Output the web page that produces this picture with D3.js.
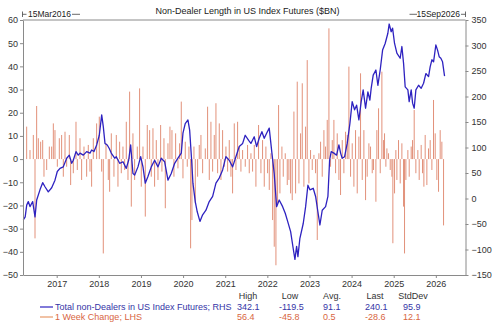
<!DOCTYPE html>
<html><head><meta charset="utf-8">
<script src="https://cdn.jsdelivr.net/npm/d3@7"></script>
<style>
html,body{margin:0;padding:0;background:#fff;}
svg{display:block;font-family:"Liberation Sans",Arial,sans-serif;}
</style></head>
<body>
<svg id="c" width="500" height="328"></svg>
<script>
// ---- DATA ----
const title = "Non-Dealer Length in US Index Futures ($BN)";
const startLabel = "15Mar2016";
const endLabel = "15Sep2026";
const yearTicks = [2017,2018,2019,2020,2021,2022,2023,2024,2025,2026];
const leftTicks = [-50,-40,-30,-20,-10,0,10,20,30,40,50,60];
const rightTicks = [-150,-100,-50,0,50,100,150,200,250,300,350];

// Total non-Dealers (RHS), time in decimal years
const lineT = [2016.207,2016.252,2016.288,2016.326,2016.366,2016.43,2016.485,2016.525,2016.603,2016.667,
2016.722,2016.80,2016.881,2016.959,2017.014,2017.078,2017.156,2017.237,2017.299,2017.356,
2017.394,2017.458,2017.512,2017.553,2017.631,2017.712,2017.79,2017.83,2017.885,2017.949,
2018.011,2018.068,2018.106,2018.146,2018.20,2018.248,2018.295,2018.376,2018.414,2018.495,
2018.573,2018.651,2018.708,2018.756,2018.81,2018.851,2018.929,2018.993,2019.048,2019.102,
2019.166,2019.245,2019.325,2019.404,2019.482,2019.563,2019.641,2019.719,2019.80,2019.878,
2019.957,2019.997,2020.051,2020.115,2020.156,2020.203,2020.234,2020.289,2020.336,2020.40,
2020.464,2020.543,2020.621,2020.702,2020.78,2020.858,2020.939,2021.017,2021.095,2021.176,
2021.254,2021.333,2021.414,2021.475,2021.556,2021.61,2021.689,2021.746,2021.807,2021.871,
2021.926,2021.983,2022.045,2022.109,2022.163,2022.22,2022.282,2022.363,2022.425,2022.472,
2022.553,2022.614,2022.655,2022.695,2022.726,2022.773,2022.852,2022.909,2022.963,2023.011,
2023.089,2023.146,2023.20,2023.248,2023.303,2023.383,2023.438,2023.478,2023.516,2023.58,
2023.644,2023.699,2023.739,2023.777,2023.834,2023.896,2023.96,2024.014,2024.071,2024.119,
2024.173,2024.228,2024.275,2024.332,2024.387,2024.434,2024.465,2024.513,2024.577,2024.624,
2024.679,2024.736,2024.797,2024.861,2024.892,2024.94,2024.973,2025.02,2025.075,2025.153,
2025.194,2025.234,2025.272,2025.336,2025.367,2025.415,2025.448,2025.486,2025.526,2025.59,
2025.652,2025.709,2025.763,2025.827,2025.865,2025.906,2025.946,2026.0,2026.041,2026.079,
2026.119,2026.159,2026.207];
const lineV = [-42,-36,-13,-6,-16,-6,-36,-3,17,31,
23,13,21,36,53,59,62,79,85,69,
75,92,85,89,85,92,89,95,92,105,
124,164,141,108,105,98,89,79,82,69,
72,59,75,105,49,46,62,82,62,30,
43,62,75,62,79,72,36,49,69,79,
89,128,147,154,134,75,30,-6,-26,-45,
-32,-23,-6,4,30,40,56,82,75,62,
82,102,108,124,114,108,121,102,118,131,
118,128,138,89,49,-16,-3,-16,-29,-42,
-65,-98,-119.5,-94,-114,-78,-49,-16,26,17,
20,4,-26,-52,-23,-16,4,75,92,89,
85,105,89,79,82,108,147,190,174,183,
154,190,213,177,209,193,216,242,252,222,
252,291,304,324,342.1,327,334,304,285,275,
298,265,219,213,190,213,187,177,213,222,
216,226,245,239,258,272,268,301,291,278,
275,268,240.1];

// 1 Week Change (LHS)
const barT = [2016.287,2016.366,2016.445,2016.485,2016.524,2016.564,2016.619,2016.667,2016.698,2016.762,
2016.825,2016.88,2016.92,2016.959,2017.015,2017.062,2017.117,2017.157,2017.197,2017.236,
2017.299,2017.331,2017.394,2017.458,2017.489,2017.553,2017.592,2017.648,2017.711,2017.75,
2017.79,2017.829,2017.869,2017.948,2018.011,2018.067,2018.106,2018.17,2018.225,
2018.257,2018.296,2018.359,2018.415,2018.454,2018.494,2018.533,2018.573,2018.613,2018.652,
2018.692,2018.731,2018.771,2018.81,2018.85,2018.913,2018.968,2019.008,2019.048,2019.103,
2019.15,2019.206,2019.245,2019.285,2019.324,2019.364,2019.404,2019.467,2019.498,2019.546,
2019.578,2019.641,2019.688,2019.736,2019.783,2019.823,2019.878,2019.917,2019.957,2019.997,
2020.052,2020.099,2020.139,2020.179,2020.21,2020.258,2020.29,
2020.345,2020.384,2020.424,2020.464,2020.527,2020.582,2020.622,2020.661,2020.701,2020.74,
2020.78,2020.82,2020.859,2020.899,2020.938,2020.978,2021.017,2021.057,2021.096,2021.136,
2021.175,2021.215,2021.255,2021.294,2021.334,2021.373,2021.413,2021.476,2021.531,2021.571,
2021.611,2021.65,2021.69,2021.729,2021.792,2021.848,2021.887,2021.927,2021.966,2022.006,
2022.046,2022.085,2022.125,2022.164,2022.204,2022.243,2022.267,2022.299,2022.346,2022.378,2022.425,
2022.473,2022.512,2022.552,2022.591,2022.631,2022.671,2022.71,2022.75,2022.789,2022.829,
2022.868,2022.908,2022.947,2022.987,2023.026,2023.066,2023.106,2023.145,2023.185,2023.224,
2023.264,2023.303,2023.343,2023.382,2023.422,2023.462,2023.501,2023.541,2023.58,2023.62,
2023.659,2023.699,2023.738,2023.778,2023.817,2023.857,2023.897,2023.936,2023.976,2024.015,
2024.055,2024.094,2024.134,2024.173,2024.213,2024.253,2024.292,2024.332,2024.371,2024.411,
2024.45,2024.49,
2024.521,2024.577,2024.6,2024.64,2024.68,2024.719,2024.759,2024.782,2024.814,2024.838,
2024.877,2024.917,2024.957,2024.98,2025.02,2025.051,2025.075,2025.114,2025.154,2025.194,
2025.233,2025.257,2025.289,2025.336,2025.368,2025.415,2025.447,2025.486,2025.526,2025.573,
2025.605,2025.652,2025.684,2025.716,2025.747,2025.787,2025.826,2025.866,2025.906,2025.945,
2025.985,2026.024,2026.064,2026.103,2026.143,2026.183];
const barV = [14.0,3.9,10.4,-34.2,22.9,9.0,7.5,8.2,-7.6,-4.7,
5.4,5.4,15.4,12.5,-3.3,9.0,10.4,-7.6,11.8,-3.3,
10.4,-11.2,-6.1,16.1,-4.7,9.0,-9.0,5.4,-7.6,6.1,
-5.4,-11.9,9.0,15.4,18.3,-5.4,-40.7,6.8,-9.0,
-14.1,11.1,-7.6,10.4,-11.9,7.5,-6.1,5.4,-4.7,16.1,
-9.0,29.1,-20.5,11.1,-9.0,5.4,30.5,-11.9,5.4,-24.8,
14.7,12.5,-7.6,13.3,-11.9,8.2,-9.0,14.7,-5.4,9.0,
-21.2,6.8,14.0,12.5,-7.6,11.1,-4.0,6.8,24.8,-8.3,
7.5,-3.3,5.4,-38.5,-26.3,5.4,-19.1,
-7.6,6.1,10.4,-6.1,4.6,22.6,-9.0,16.1,-5.4,10.4,
24.1,-6.1,15.4,-9.0,12.5,-3.3,5.4,-5.4,8.2,-7.6,
-14.8,15.4,-4.7,16.1,5.4,-5.4,3.9,-3.3,6.1,-6.1,
2.5,-5.4,6.1,-11.9,14.7,-6.1,8.2,-11.9,5.4,-6.1,
-13.3,2.5,-26.3,-37.8,-45.8,-19.1,23.3,-14.8,5.4,-7.6,2.5,
-11.2,-9.0,-14.8,-17.7,20.5,-14.8,33.4,-10.5,11.1,32.7,
-11.9,14.0,42.7,-10.5,3.9,-4.7,1.8,-6.1,-34.9,2.5,
7.5,-7.6,12.5,5.4,16.9,56.4,-3.3,8.2,16.9,-6.1,
11.1,-9.0,-15.5,8.2,-6.1,11.8,10.4,39.9,-7.6,6.8,
-11.9,12.5,-14.8,9.7,37.0,-9.0,12.5,-17.7,-7.6,6.8,
5.4,-6.1,
-4.7,-18.4,12.5,21.9,-6.1,37.7,8.2,11.1,-3.3,4.6,
2.5,-4.7,-7.6,-36.3,-14.8,3.9,-9.0,8.2,-10.5,6.8,
-20.5,-40.7,-9.0,3.9,-7.6,5.4,8.2,21.2,-6.1,3.9,
-9.0,6.1,-6.1,-11.9,10.4,-11.2,4.6,8.2,-4.7,25.5,
11.1,-9.0,-14.1,12.5,7.5,-28.6];

// legend / stats
const seriesNames = ["Total non-Dealers in US Index Futures; RHS","1 Week Change; LHS"];
const statHeaders = ["High","Low","Avg.","Last","StdDev"];
const statsLine = ["342.1","-119.5","91.1","240.1","95.9"];
const statsBar = ["56.4","-45.8","0.5","-28.6","12.1"];

// ---- CHART ----
const svg = d3.select("#c");
const L = 23, R = 465.5, T = 20, B = 275;
const x = d3.scaleLinear().domain([2016.2, 2026.704]).range([L, R]);
const yL = d3.scaleLinear().domain([-50, 60]).range([B, T]);
const yR = d3.scaleLinear().domain([-150, 350]).range([B, T]);

const axisCol = "#8a8a8a", textCol = "#333";
const blue = "#2e22c0", orange = "#e2917a";

// bars
const bars = barT.map((t,i)=>({t, v: barV[i]}));
svg.append("g").selectAll("line").data(bars).join("line")
  .attr("x1", d=>x(d.t)).attr("x2", d=>x(d.t))
  .attr("y1", yL(0)).attr("y2", d=>yL(d.v))
  .attr("stroke", orange).attr("stroke-width", 1);

// line
const pts = lineT.map((t,i)=>({t, v: lineV[i]}));
svg.append("path").datum(pts)
  .attr("fill","none").attr("stroke", blue).attr("stroke-width", 1.3)
  .attr("stroke-linejoin","round")
  .attr("d", d3.line().x(d=>x(d.t)).y(d=>yR(d.v)));

// axes
function style(g){
  g.selectAll("path,line").attr("stroke", axisCol);
  g.selectAll("text").attr("fill", textCol).style("font-size","9px")
   .style("font-family","'Liberation Sans',Arial,sans-serif");
}
svg.append("g").attr("transform",`translate(${L},0)`)
  .call(d3.axisLeft(yL).tickValues(leftTicks).tickSize(3).tickPadding(2).tickSizeOuter(0))
  .call(style);
svg.append("g").attr("transform",`translate(${R},0)`)
  .call(d3.axisRight(yR).tickValues(rightTicks).tickSize(3).tickPadding(3).tickSizeOuter(0))
  .call(style);
svg.append("g").attr("transform",`translate(0,${B})`)
  .call(d3.axisBottom(x).tickValues(yearTicks).tickFormat(d3.format("d")).tickSize(3).tickPadding(3).tickSizeOuter(0))
  .call(style);
svg.append("line").attr("x1",L).attr("x2",R).attr("y1",T).attr("y2",T).attr("stroke",axisCol);

// title & date markers
svg.append("text").attr("x",247.5).attr("y",13.5).attr("text-anchor","middle")
  .attr("fill","#222").style("font-size","9px").text(title);
const hdr = svg.append("g").attr("stroke","#444").attr("stroke-width",0.8);
hdr.append("line").attr("x1",22.5).attr("x2",22.5).attr("y1",11.5).attr("y2",17);
hdr.append("line").attr("x1",22.5).attr("x2",26.5).attr("y1",14.3).attr("y2",14.3);
hdr.append("line").attr("x1",72).attr("x2",80).attr("y1",14.3).attr("y2",14.3);
hdr.append("line").attr("x1",409.5).attr("x2",417).attr("y1",14.3).attr("y2",14.3);
hdr.append("line").attr("x1",461).attr("x2",465.5).attr("y1",14.3).attr("y2",14.3);
hdr.append("line").attr("x1",465.5).attr("x2",465.5).attr("y1",11.5).attr("y2",17);
svg.append("text").attr("x",28).attr("y",17).attr("fill","#222").style("font-size","8.5px").text(startLabel);
svg.append("text").attr("x",460).attr("y",17).attr("text-anchor","end").attr("fill","#222").style("font-size","8.5px").text(endLabel);

// legend + stats
const legCols = [blue, "#e89a6a"], legText = ["#3434a6","#d8663f"];
const colX = [248, 290, 332, 375, 413];
const valX = [237, 279, 323, 365, 403];
statHeaders.forEach((h,i)=>{
  svg.append("text").attr("x",colX[i]).attr("y",299).attr("text-anchor","middle")
    .attr("fill",textCol).style("font-size","9px").text(h);
});
[statsLine, statsBar].forEach((row,r)=>{
  const yy = 307 + r*10;
  svg.append("line").attr("x1",40).attr("x2",53).attr("y1",yy).attr("y2",yy)
    .attr("stroke",legCols[r]).attr("stroke-width",1.2);
  svg.append("text").attr("x",55).attr("y",yy+3.2).attr("fill",legText[r])
    .style("font-size","9px").text(seriesNames[r]);
  row.forEach((v,i)=>{
    svg.append("text").attr("x",valX[i]).attr("y",yy+3.2).attr("fill",legText[r])
      .style("font-size","9px").text(v);
  });
});
</script>
</body></html>
